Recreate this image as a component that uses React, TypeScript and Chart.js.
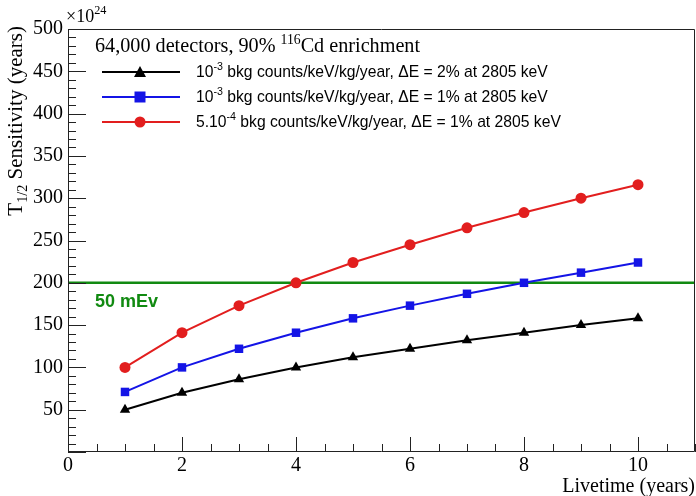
import React, { useEffect, useRef } from 'react';
import { Chart, registerables } from 'chart.js';

Chart.register(...registerables);

// ---- data ----
const livetimeYears = [1, 2, 3, 4, 5, 6, 7, 8, 9, 10];
const bkg1e3dE2 = [50, 70, 86, 100, 112, 122, 132, 141, 150, 158];
const bkg1e3dE1 = [71, 100, 122, 141, 158, 173, 187, 200, 212, 224];
const bkg5e4dE1 = [100, 141, 173, 200, 224, 245, 265, 283, 300, 316];
const mEvLevel = 200;
const mEvSpan = [0, 11];
const mEvLabel = '50 mEv';
const xMajorTicks = [0, 2, 4, 6, 8, 10];
const yMajorTicks = [0, 50, 100, 150, 200, 250, 300, 350, 400, 450, 500];
const xRange = [0, 11];
const yRange = [0, 500];

type Part = { t: string; sup?: boolean; sub?: boolean };

const legendTitle: Part[] = [
  { t: '64,000 detectors, 90% ' },
  { t: '116', sup: true },
  { t: 'Cd enrichment' },
];
const seriesLabels: Part[][] = [
  [{ t: '10' }, { t: '-3', sup: true }, { t: ' bkg counts/keV/kg/year, \u0394E = 2% at 2805 keV' }],
  [{ t: '10' }, { t: '-3', sup: true }, { t: ' bkg counts/keV/kg/year, \u0394E = 1% at 2805 keV' }],
  [{ t: '5.10' }, { t: '-4', sup: true }, { t: ' bkg counts/keV/kg/year, \u0394E = 1% at 2805 keV' }],
];
const yTitle: Part[] = [
  { t: 'T' },
  { t: '1/2', sub: true },
  { t: ' Sensitivity (years)' },
];
const xTitle = 'Livetime (years)';
const exponentLabel: Part[] = [{ t: '\u00d710' }, { t: '24', sup: true }];

const SERIF = '"Liberation Serif", "DejaVu Serif", serif';
const SANS = '"Liberation Sans", Arial, sans-serif';
const GREEN = '#118a11';
const colors = ['#000000', '#1414e6', '#e21e1e'];
const styles = ['triangle', 'rect', 'circle'];
const radii = [6, 6, 5.5];

function drawRich(
  ctx: CanvasRenderingContext2D,
  parts: Part[],
  x: number,
  y: number,
  size: number,
  family: string,
  align: 'left' | 'right' = 'left',
  weight = 'normal'
) {
  const small = size * 0.68;
  const widths = parts.map((p) => {
    ctx.font = `${weight} ${p.sup || p.sub ? small : size}px ${family}`;
    return ctx.measureText(p.t).width;
  });
  const total = widths.reduce((a, b) => a + b, 0);
  let cx = align === 'left' ? x : x - total;
  ctx.textBaseline = 'alphabetic';
  ctx.textAlign = 'left';
  parts.forEach((p, i) => {
    ctx.font = `${weight} ${p.sup || p.sub ? small : size}px ${family}`;
    let dy = 0;
    if (p.sup) dy = -size * 0.42;
    if (p.sub) dy = size * 0.22;
    ctx.fillText(p.t, cx, y + dy);
    cx += widths[i];
  });
}

const rootPlugin = {
  id: 'rootStyle',
  afterDraw(chart: any) {
    const ctx: CanvasRenderingContext2D = chart.ctx;
    const { left, right, top, bottom } = chart.chartArea;
    const xs = chart.scales.x;
    const ys = chart.scales.y;
    ctx.save();
    // frame
    ctx.strokeStyle = '#222';
    ctx.lineWidth = 1;
    ctx.beginPath();
    ctx.rect(left + 0.5, top + 0.5, right - left - 1, bottom - top - 1);
    ctx.stroke();
    // y ticks
    ctx.beginPath();
    for (let v = yRange[0]; v <= yRange[1]; v += 10) {
      const py = Math.round(ys.getPixelForValue(v)) + 0.5;
      const major = yMajorTicks.includes(v);
      ctx.moveTo(left, py);
      ctx.lineTo(left + (major ? 18 : 8), py);
    }
    // x ticks
    for (let v = xRange[0]; v <= xRange[1] + 1e-9; v += 0.5) {
      const px = Math.round(xs.getPixelForValue(v)) + 0.5;
      const major = xMajorTicks.includes(v);
      ctx.moveTo(px, bottom);
      ctx.lineTo(px, bottom - (major ? 15 : 8));
    }
    ctx.stroke();

    ctx.fillStyle = '#000';
    // exponent
    drawRich(ctx, exponentLabel, left - 2, top - 7, 18, SERIF);
    // y title
    ctx.save();
    ctx.translate(22, top - 3);
    ctx.rotate(-Math.PI / 2);
    drawRich(ctx, yTitle, 0, 0, 21, SERIF, 'right');
    ctx.restore();
    // x title
    drawRich(ctx, [{ t: xTitle }], right, 492, 20, SERIF, 'right');

    // legend
    drawRich(ctx, legendTitle, 95, 52, 20.2, SERIF);
    const rowsY = [72, 97, 122];
    seriesLabels.forEach((lab, i) => {
      const y = rowsY[i];
      ctx.strokeStyle = colors[i];
      ctx.lineWidth = 2;
      ctx.beginPath();
      ctx.moveTo(102, y);
      ctx.lineTo(180, y);
      ctx.stroke();
      ctx.fillStyle = colors[i];
      ctx.beginPath();
      const r = radii[i];
      if (styles[i] === 'circle') {
        ctx.arc(140, y, r, 0, Math.PI * 2);
      } else if (styles[i] === 'rect') {
        ctx.rect(140 - 5.5, y - 5.5, 11, 11);
      } else {
        ctx.moveTo(140, y - 6);
        ctx.lineTo(146, y + 5);
        ctx.lineTo(134, y + 5);
        ctx.closePath();
      }
      ctx.fill();
      ctx.fillStyle = '#000';
      drawRich(ctx, lab, 196, y + 5, 15.7, SANS);
    });

    // 50 mEv label
    ctx.fillStyle = GREEN;
    drawRich(ctx, [{ t: mEvLabel }], 95, 307, 18, SANS, 'left', 'bold');
    ctx.restore();
  },
};

const zeroPad = () => ({ left: 0, right: 0, top: 0, bottom: 0 });

export default function App() {
  const ref = useRef<HTMLCanvasElement>(null);
  useEffect(() => {
    document.body.style.margin = '0';
    const seriesData = [bkg1e3dE2, bkg1e3dE1, bkg5e4dE1];
    const datasets: any[] = [
      {
        label: mEvLabel,
        data: mEvSpan.map((x) => ({ x, y: mEvLevel })),
        borderColor: GREEN,
        borderWidth: 2.5,
        pointRadius: 0,
        order: 5,
      },
      ...seriesData.map((vals, i) => ({
        label: 'series' + i,
        data: livetimeYears.map((x, j) => ({ x, y: vals[j] })),
        borderColor: colors[i],
        backgroundColor: colors[i],
        borderWidth: 2,
        pointStyle: styles[i],
        pointRadius: radii[i],
        pointBorderWidth: 0,
        order: 3 - i,
      })),
    ];
    const chart = new Chart(ref.current!, {
      type: 'line',
      data: { datasets },
      plugins: [rootPlugin],
      options: {
        animation: false,
        responsive: true,
        maintainAspectRatio: false,
        layout: { autoPadding: false, padding: { top: 29, right: 1, left: 0, bottom: 0 } },
        plugins: { legend: { display: false }, tooltip: { enabled: false } },
        scales: {
          x: {
            type: 'linear',
            min: xRange[0],
            max: xRange[1],
            grid: { display: false, drawTicks: false },
            border: { display: false },
            afterFit: (s: any) => {
              s.height = 44;
              s.paddingLeft = 0;
              s.paddingRight = 0;
              s.getPadding = zeroPad;
            },
            afterBuildTicks: (s: any) => {
              s.ticks = xMajorTicks.map((value) => ({ value }));
            },
            ticks: {
              padding: 2,
              maxRotation: 0,
              color: '#000',
              font: { family: SERIF, size: 20 },
            },
          },
          y: {
            type: 'linear',
            min: yRange[0],
            max: yRange[1],
            grid: { display: false, drawTicks: false },
            border: { display: false },
            afterFit: (s: any) => {
              s.width = 68;
              s.paddingTop = 0;
              s.paddingBottom = 0;
              s.getPadding = zeroPad;
            },
            afterBuildTicks: (s: any) => {
              s.ticks = yMajorTicks.filter((v) => v !== 0).map((value) => ({ value }));
            },
            ticks: {
              padding: 5,
              color: '#000',
              font: { family: SERIF, size: 20 },
            },
          },
        },
      },
    });
    return () => chart.destroy();
  }, []);
  return (
    <div style={{ position: 'absolute', left: 0, top: 0, width: 696, height: 496, background: '#fff' }}>
      <canvas ref={ref} />
    </div>
  );
}
